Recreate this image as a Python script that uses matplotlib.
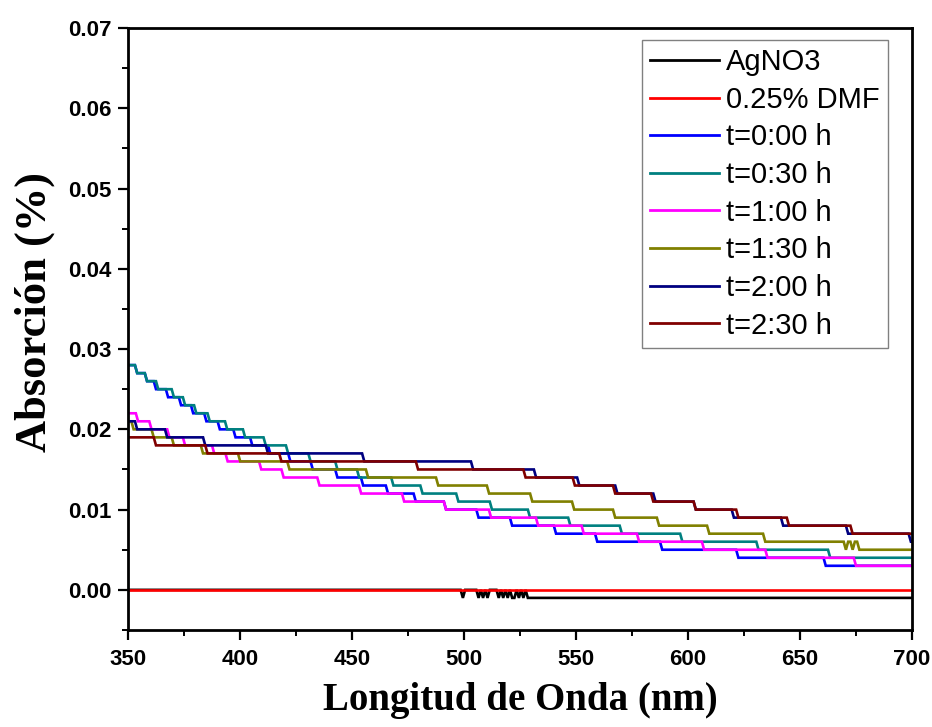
import matplotlib
matplotlib.use("Agg")
import matplotlib.pyplot as plt
import numpy as np

# ---------------- data (step levels) ----------------
# Each series: wavelengths (nm) at which a new absorption level starts, and the level.
agno3_x = [350, 499, 500, 506, 507, 508, 509, 510, 511, 515, 516, 517, 518, 519, 520, 521, 523, 524, 525, 526, 527, 528]
agno3_y = [0.000, -0.001, 0.000, -0.001, 0.000, -0.001, 0.000, -0.001, 0.000, -0.001, 0.000,
           -0.001, 0.000, -0.001, 0.000, -0.001, 0.000, -0.001, 0.000, -0.001, 0.000, -0.001]

dmf_x = [350]
dmf_y = [0.000]

t000_x = [350, 353.6, 358, 362, 367.4, 373.2, 378.6, 384.5, 390.5, 397.5, 405, 413, 422, 432,
          443, 454.5, 465.6, 478, 491.5, 506, 521, 540.6, 559, 588, 622, 661]
t000_y = [0.028, 0.027, 0.026, 0.025, 0.024, 0.023, 0.022, 0.021, 0.020, 0.019, 0.018, 0.017,
          0.016, 0.015, 0.014, 0.013, 0.012, 0.011, 0.010, 0.009, 0.008, 0.007, 0.006, 0.005,
          0.004, 0.003]

t030_x = [350, 353.6, 358, 363, 370, 375, 380, 386, 393.8, 401.8, 411, 421, 431, 443, 452.7,
          468, 481, 497, 512, 529, 547, 570, 597, 631, 663]
t030_y = [0.028, 0.027, 0.026, 0.025, 0.024, 0.023, 0.022, 0.021, 0.020, 0.019, 0.018, 0.017,
          0.016, 0.015, 0.014, 0.013, 0.012, 0.011, 0.010, 0.009, 0.008, 0.007, 0.006, 0.005,
          0.004]

t100_x = [350, 354, 360, 368, 375, 388, 394, 409, 419, 435, 453.6, 472.8, 491.5, 511.6, 532.6,
          553, 577.7, 606.7, 635, 674.5]
t100_y = [0.022, 0.021, 0.020, 0.019, 0.018, 0.017, 0.016, 0.015, 0.014, 0.013, 0.012, 0.011,
          0.010, 0.009, 0.008, 0.007, 0.006, 0.005, 0.004, 0.003]

t130_x = [350, 352, 361, 370, 383, 399.6, 421.6, 456.7, 488, 510.7, 530, 548.7, 567, 586.6,
          609, 634, 670, 671, 673, 674, 676]
t130_y = [0.021, 0.020, 0.019, 0.018, 0.017, 0.016, 0.015, 0.014, 0.013, 0.012, 0.011, 0.010,
          0.009, 0.008, 0.007, 0.006, 0.005, 0.006, 0.005, 0.006, 0.005]

t200_x = [350, 353.6, 367, 384, 412, 455, 503.6, 531.7, 551, 568, 585, 603, 620, 642, 671, 699]
t200_y = [0.021, 0.020, 0.019, 0.018, 0.017, 0.016, 0.015, 0.014, 0.013, 0.012, 0.011, 0.010,
          0.009, 0.008, 0.007, 0.006]

t230_x = [350, 362, 385, 418, 479, 527, 549, 567, 584, 603, 622, 644.6, 673]
t230_y = [0.019, 0.018, 0.017, 0.016, 0.015, 0.014, 0.013, 0.012, 0.011, 0.010, 0.009, 0.008,
          0.007]

labels = ["AgNO3", "0.25% DMF", "t=0:00 h", "t=0:30 h", "t=1:00 h", "t=1:30 h", "t=2:00 h", "t=2:30 h"]
colors = ["#000000", "#ff0000", "#0000ff", "#008080", "#ff00ff", "#808000", "#000080", "#800000"]
series = [(agno3_x, agno3_y), (dmf_x, dmf_y), (t000_x, t000_y), (t030_x, t030_y),
          (t100_x, t100_y), (t130_x, t130_y), (t200_x, t200_y), (t230_x, t230_y)]

X_END = 700


def step_vertices(xs, ys, end):
    """Turn level-start points into a polyline with short slanted risers (1 nm sampling)."""
    vx, vy = [xs[0]], [ys[0]]
    for i in range(1, len(xs)):
        vx += [xs[i] - 0.5, xs[i] + 0.5]
        vy += [ys[i - 1], ys[i]]
    vx.append(end)
    vy.append(ys[-1])
    return vx, vy


# ---------------- figure ----------------
fig = plt.figure(figsize=(9.32, 7.27), dpi=100)
ax = fig.add_axes([128 / 932, 1 - 630 / 727, (912 - 128) / 932, (630 - 28) / 727])

for (xs, ys), lab, col in zip(series, labels, colors):
    vx, vy = step_vertices(xs, ys, X_END)
    ax.plot(vx, vy, color=col, lw=1.9, label=lab, solid_joinstyle="miter")

ax.set_xlim(350, 700)
ax.set_ylim(-0.005, 0.07)
ax.set_xticks(np.arange(350, 701, 50))
ax.set_xticks(np.arange(375, 700, 50), minor=True)
ax.set_yticks(np.arange(0, 0.0701, 0.01))
ax.set_yticks(np.arange(-0.005, 0.07, 0.01), minor=True)
ax.yaxis.set_major_formatter(matplotlib.ticker.FormatStrFormatter("%.2f"))

for s in ax.spines.values():
    s.set_linewidth(2.0)

ax.tick_params(which="major", direction="out", length=7, width=1.6, top=False, right=False)
ax.tick_params(which="minor", direction="out", length=4, width=1.4, top=False, right=False)
for lab in ax.get_xticklabels() + ax.get_yticklabels():
    lab.set_fontfamily("Liberation Sans")
    lab.set_fontweight("bold")
    lab.set_fontsize(16)
ax.tick_params(axis="x", pad=7)
ax.tick_params(axis="y", pad=5)

ax.set_xlabel("Longitud de Onda (nm)", fontfamily="Liberation Serif", fontweight="bold",
              fontsize=28, labelpad=8)
ax.set_ylabel("Absorción (%)", fontfamily="Liberation Serif", fontweight="bold",
              fontsize=32)
ax.yaxis.set_label_coords(-0.093, (630 - 312) / 602)

leg = ax.legend(loc="upper right", bbox_to_anchor=(888 / 932, 1 - 40 / 727),
                bbox_transform=fig.transFigure, borderaxespad=0,
                prop={"family": "Liberation Sans", "size": 21},
                frameon=True, fancybox=False, framealpha=1, edgecolor="#808080",
                borderpad=0.28, handletextpad=0.25, handlelength=2.35, labelspacing=0.33)
leg.get_frame().set_linewidth(1.0)
for h in leg.get_lines():
    h.set_linewidth(2.0)

fig.savefig("out.png", dpi=100)
